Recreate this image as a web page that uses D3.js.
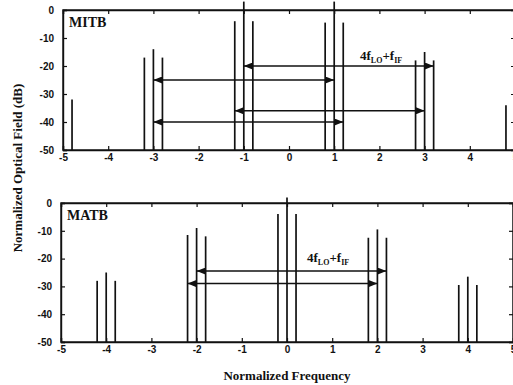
<!DOCTYPE html>
<html>
<head>
<meta charset="utf-8">
<script src="https://cdn.jsdelivr.net/npm/d3@7"></script>
<style>
  body { margin: 0; background: #fff; }
  svg text { fill: #111; }
</style>
</head>
<body>
<div id="chart"></div>
<script>
// Spectral lines: normalized frequency and level (dB)
const topFreq = [-4.8, -3.2, -3.0, -2.8, -1.2, -1.0, -0.8, 0.8, 1.0, 1.2, 2.8, 3.0, 3.2, 4.8];
const topLevel = [-32, -17, -14, -17, -4, 3, -4, -4.5, 3, -4.5, -18, -15, -18, -34];
const bottomFreq = [-4.2, -4.0, -3.8, -2.2, -2.0, -1.8, -0.2, 0, 0.2, 1.8, 2.0, 2.2, 3.8, 4.0, 4.2];
const bottomLevel = [-28, -25, -28, -11.5, -9, -12, -4, 2, -4, -12.5, -9.5, -12.5, -29.5, -26.5, -29.5];

// Double-headed arrows
const topArrowFrom = [-1.0, -3.0, -1.2, -3.0];
const topArrowTo = [3.2, 1.0, 3.0, 1.2];
const topArrowLevel = [-20, -25, -36, -40];
const bottomArrowFrom = [-2.0, -2.2];
const bottomArrowTo = [2.2, 2.0];
const bottomArrowLevel = [-24.5, -29];

const xTicks = [-5, -4, -3, -2, -1, 0, 1, 2, 3, 4, 5];
const yTicks = [0, -10, -20, -30, -40, -50];

const W = 513, H = 385;
const svg = d3.select("#chart").append("svg")
    .attr("width", W).attr("height", H);

// plain hyphen for negative numbers, like the original plot
const fmt = function(d) { return String(d); };

const defs = svg.append("defs");
["L", "R"].forEach(function(k) {
    defs.append("marker")
        .attr("id", "head" + k)
        .attr("viewBox", "0 0 10 8")
        .attr("refX", k === "R" ? 10 : 0).attr("refY", 4)
        .attr("markerWidth", 10).attr("markerHeight", 7)
        .attr("markerUnits", "userSpaceOnUse")
        .attr("orient", "auto")
        .append("path")
        .attr("d", k === "R" ? "M0,0 L10,4 L0,8 Z" : "M10,0 L0,4 L10,8 Z")
        .attr("fill", "#111");
});

function panel(cfg) {
    let x = d3.scaleLinear().domain([-5, 5]).range([cfg.left, cfg.right]);
    let y = d3.scaleLinear().domain([-50, 0]).range([cfg.bottom, cfg.top]);
    let g = svg.append("g");

    // frame
    g.append("rect")
        .attr("x", cfg.left).attr("y", cfg.top)
        .attr("width", cfg.right - cfg.left).attr("height", cfg.bottom - cfg.top)
        .attr("fill", "none").attr("stroke", "#111").attr("stroke-width", 1.4);

    // axes with inward ticks
    let bx = g.append("g").attr("transform", "translate(0," + cfg.bottom + ")")
        .call(d3.axisBottom(x).tickValues(xTicks).tickSize(-4).tickPadding(6).tickFormat(fmt));
    g.append("g").attr("transform", "translate(0," + cfg.top + ")")
        .call(d3.axisTop(x).tickValues(xTicks).tickSize(-4).tickFormat(""));
    g.append("g").attr("transform", "translate(" + cfg.left + ",0)")
        .call(d3.axisLeft(y).tickValues(yTicks).tickSize(-4).tickPadding(9).tickFormat(fmt));
    g.append("g").attr("transform", "translate(" + cfg.right + ",0)")
        .call(d3.axisRight(y).tickValues(yTicks).tickSize(-4).tickFormat(""));
    g.selectAll(".domain").attr("stroke", "#111").attr("stroke-width", 1.4);
    g.selectAll(".tick line").attr("stroke", "#111").attr("stroke-width", 1.2);
    g.selectAll(".tick text")
        .attr("font-family", "Liberation Sans, Arial, sans-serif")
        .attr("font-weight", "bold").attr("font-size", 10).attr("fill", "#111");
    bx.selectAll(".tick text").attr("dy", "0.5em");

    // stems
    g.selectAll(".stem").data(cfg.freq).enter().append("line")
        .attr("x1", function(d) { return x(d); })
        .attr("x2", function(d) { return x(d); })
        .attr("y1", y(-50))
        .attr("y2", function(d, i) { return y(cfg.level[i]); })
        .attr("stroke", "#111").attr("stroke-width", 1.7);

    // arrows
    g.selectAll(".arrow").data(cfg.aFrom).enter().append("line")
        .attr("x1", function(d) { return x(d); })
        .attr("x2", function(d, i) { return x(cfg.aTo[i]); })
        .attr("y1", function(d, i) { return y(cfg.aLevel[i]); })
        .attr("y2", function(d, i) { return y(cfg.aLevel[i]); })
        .attr("stroke", "#111").attr("stroke-width", 1.5)
        .attr("marker-start", "url(#headL)")
        .attr("marker-end", "url(#headR)");

    // panel name
    g.append("text")
        .attr("x", cfg.left + 6).attr("y", cfg.top + 17)
        .attr("font-family", "Liberation Serif, Times New Roman, serif")
        .attr("font-weight", "bold").attr("font-size", 14)
        .text(cfg.name);

    // 4fLO+fIF label
    let t = g.append("text")
        .attr("x", cfg.labelX).attr("y", cfg.labelY)
        .attr("font-family", "Liberation Serif, Times New Roman, serif")
        .attr("font-weight", "bold").attr("font-size", 13);
    t.append("tspan").text("4f");
    t.append("tspan").attr("font-size", 8).attr("dy", 3).text("LO");
    t.append("tspan").attr("dy", -3).text("+f");
    t.append("tspan").attr("font-size", 8).attr("dy", 3).text("IF");
}

panel({
    name: "MITB", left: 63, right: 515, top: 10, bottom: 150,
    freq: topFreq, level: topLevel,
    aFrom: topArrowFrom, aTo: topArrowTo, aLevel: topArrowLevel,
    labelX: 360, labelY: 60
});

panel({
    name: "MATB", left: 61, right: 513, top: 203, bottom: 342,
    freq: bottomFreq, level: bottomLevel,
    aFrom: bottomArrowFrom, aTo: bottomArrowTo, aLevel: bottomArrowLevel,
    labelX: 307, labelY: 262
});

// axis titles
svg.append("text")
    .attr("x", 287).attr("y", 380)
    .attr("text-anchor", "middle")
    .attr("font-family", "Liberation Serif, Times New Roman, serif")
    .attr("font-weight", "bold").attr("font-size", 13)
    .text("Normalized Frequency");

svg.append("text")
    .attr("transform", "translate(22,168) rotate(-90)")
    .attr("text-anchor", "middle")
    .attr("font-family", "Liberation Serif, Times New Roman, serif")
    .attr("font-weight", "bold").attr("font-size", 13)
    .text("Normalized Optical Field (dB)");
</script>
</body>
</html>
